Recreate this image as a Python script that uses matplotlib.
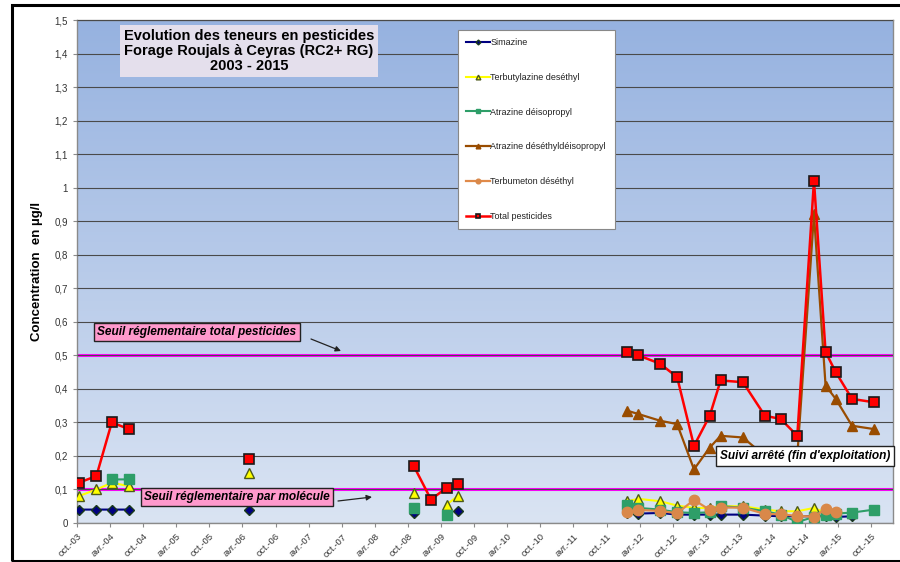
import numpy as np
import pandas as pd
import matplotlib
matplotlib.use("Agg")
import matplotlib.pyplot as plt
import matplotlib.dates as mdates
from matplotlib.colors import LinearSegmentedColormap
from matplotlib.patches import Rectangle
from matplotlib.ticker import FuncFormatter, MultipleLocator

plt.rcParams['font.family'] = ['Liberation Sans', 'DejaVu Sans']

nan = np.nan

# sampling dates (empty rows = analyses without detection, they break the lines)
dates = [
    "2003-10-10", "2004-01-16", "2004-04-10", "2004-07-13", "2005-06-01",
    "2006-05-07", "2007-08-01",
    "2008-11-01", "2009-02-04", "2009-05-01", "2009-07-01", "2010-10-01",
    "2012-01-22", "2012-03-24", "2012-07-22", "2012-10-24", "2013-01-25",
    "2013-04-22", "2013-06-21", "2013-10-22", "2014-02-20", "2014-05-19",
    "2014-08-18", "2014-11-18", "2015-01-21", "2015-03-18", "2015-06-16",
    "2015-10-16",
]

simazine = [0.04, 0.04, 0.04, 0.04, nan,
            0.04, nan,
            0.03, nan, nan, 0.035, nan,
            0.03, 0.028, 0.03, 0.025, 0.025,
            0.025, 0.025, 0.025, 0.022, 0.02,
            0.02, 0.02, 0.02, 0.018, 0.02,
            nan]

terbutylazine = [0.08, 0.10, 0.12, 0.11, nan,
                 0.15, nan,
                 0.09, nan, 0.055, 0.08, nan,
                 0.065, 0.072, 0.065, 0.052, 0.045,
                 0.045, 0.05, 0.05, 0.04, 0.035,
                 0.035, 0.045, 0.03, 0.03, 0.03,
                 nan]

atrazine_dip = [nan, nan, 0.13, 0.13, nan,
                nan, nan,
                0.045, nan, 0.025, nan, nan,
                0.055, 0.045, 0.04, 0.032, 0.03,
                0.032, 0.05, 0.046, 0.035, 0.025,
                0.003, 0.018, 0.025, 0.028, 0.031,
                0.04]

atrazine_dedip = [nan, nan, nan, nan, nan,
                  nan, nan,
                  nan, nan, nan, nan, nan,
                  0.335, 0.325, 0.305, 0.295, 0.16,
                  0.225, 0.26, 0.255, 0.20, 0.20,
                  0.20, 0.92, 0.41, 0.37, 0.29,
                  0.28]

terbumeton = [nan, nan, nan, nan, nan,
              nan, nan,
              nan, nan, nan, nan, nan,
              0.032, 0.039, 0.036, 0.029, 0.069,
              0.039, 0.046, 0.046, 0.027, 0.026,
              0.021, 0.019, 0.041, 0.032, nan,
              nan]

total = [0.12, 0.14, 0.30, 0.28, nan,
         0.19, nan,
         0.17, 0.07, 0.105, 0.115, nan,
         0.51, 0.50, 0.475, 0.435, 0.23,
         0.32, 0.425, 0.42, 0.32, 0.31,
         0.26, 1.02, 0.51, 0.45, 0.37,
         0.36]

seuil_total = 0.5
seuil_molecule = 0.1

x = pd.to_datetime(dates)

fig = plt.figure(figsize=(9, 5.62), dpi=100)
ax = fig.add_axes([77 / 900, 39 / 562, 816 / 900, 503 / 562])

# gradient plot area
cmap = LinearSegmentedColormap.from_list("bg", ["#DAE4F3", "#96B2E0"])
grad = np.linspace(0, 1, 256).reshape(-1, 1)
ax.imshow(grad, cmap=cmap, origin="lower", aspect="auto",
          extent=[0, 1, 0, 1], transform=ax.transAxes, zorder=0)

ax.set_ylim(0, 1.5)
ax.set_xlim(pd.Timestamp("2003-10-01"), pd.Timestamp("2016-01-28"))
ax.yaxis.set_major_locator(MultipleLocator(0.1))
ax.grid(axis='y', color='#4a4a4a', linewidth=0.8, zorder=1)
ax.set_axisbelow(False)

ax.axhline(seuil_total, color='#FF00FF', linewidth=2.2, zorder=2)
ax.axhline(seuil_molecule, color='#FF00FF', linewidth=2.2, zorder=2)

series = [
    ("Simazine", simazine, dict(color='#000080', marker='D', ms=5.5, mfc='#000080', mec='#1a3a1a', lw=1.5)),
    ("Terbutylazine deséthyl", terbutylazine, dict(color='#FFFF00', marker='^', ms=7.5, mfc='#FFFF00', mec='#4d5a1a', lw=1.5)),
    ("Atrazine déisopropyl", atrazine_dip, dict(color='#2E9E68', marker='s', ms=7, mfc='#2E9E68', mec='#2E9E68', lw=1.5)),
    ("Atrazine déséthyldéisopropyl", atrazine_dedip, dict(color='#994C00', marker='^', ms=7.5, mfc='#994C00', mec='#994C00', lw=1.6)),
    ("Terbumeton déséthyl", terbumeton, dict(color='#E08A4A', marker='o', ms=7.5, mfc='#D9884A', mec='#D9884A', lw=1.6)),
    ("Total pesticides", total, dict(color='#FF0000', marker='s', ms=7.5, mfc='#FF0000', mec='#1a1a1a', mew=1.2, lw=1.8)),
]
for i, (name, vals, st) in enumerate(series):
    ax.plot(x, vals, label=name, zorder=3 + i, **st)

# axes styling
for s in ax.spines.values():
    s.set_color('#8a8a8a')
    s.set_linewidth(1.0)
ax.yaxis.set_major_formatter(FuncFormatter(lambda v, p: f"{v:.1f}".replace('.', ',') if round(v, 1) not in (0.0, 1.0) else str(int(round(v)))))
ax.tick_params(axis='y', labelsize=7, colors='#8a8a8a', labelcolor='#333333', length=3)

ax.xaxis.set_major_locator(mdates.MonthLocator(bymonth=[4, 10]))
ax.xaxis.set_major_formatter(FuncFormatter(
    lambda v, p: ("avr." if mdates.num2date(v).month == 4 else "oct.") + "-" + mdates.num2date(v).strftime("%y")))
ax.tick_params(axis='x', labelsize=6.8, colors='#8a8a8a', labelcolor='#333333', length=3)
for lab in ax.get_xticklabels():
    lab.set_rotation(45)
    lab.set_ha('right')
    lab.set_rotation_mode('anchor')

ax.set_ylabel("Concentration  en µg/l", fontsize=9.5, fontweight='bold', labelpad=8)

# legend
leg = ax.legend(loc='upper left', bbox_to_anchor=(453 / 900, 1 - 25 / 562),
                bbox_transform=fig.transFigure, fontsize=6.5, labelspacing=2.85,
                handlelength=2.6, handletextpad=0.1, markerscale=0.45,
                fancybox=False, framealpha=1, edgecolor='#888888', borderpad=0.95)
leg.get_frame().set_linewidth(0.8)
leg.set_zorder(20)
for t in leg.get_texts():
    t.set_color('#222222')

# title box
fig.text(249 / 900, 1 - 51 / 562,
         "Evolution des teneurs en pesticides\nForage Roujals à Ceyras (RC2+ RG)\n2003 - 2015",
         ha='center', va='center', fontsize=10.5, fontweight='bold', linespacing=1.12,
         bbox=dict(boxstyle='square,pad=0.25', fc='#E4DFEC', ec='none'), zorder=20)

# threshold annotations
pink = dict(boxstyle='square,pad=0.28', fc='#FF99CC', ec='#222222', lw=1.0)
arrow = dict(arrowstyle='-|>', color='#222222', lw=0.9, shrinkA=0, shrinkB=0, mutation_scale=8)

fig.text(197 / 900, 1 - 332 / 562, "Seuil réglementaire total pesticides",
         ha='center', va='center', fontsize=8.6, fontweight='bold', style='italic',
         bbox=pink, zorder=21)
ax.annotate("", xy=(341 / 900, 1 - 351 / 562), xycoords='figure fraction',
            xytext=(311 / 900, 1 - 339 / 562), textcoords='figure fraction',
            arrowprops=arrow, zorder=21)

fig.text(237 / 900, 1 - 497 / 562, "Seuil réglementaire par molécule",
         ha='center', va='center', fontsize=8.6, fontweight='bold', style='italic',
         bbox=pink, zorder=21)
ax.annotate("", xy=(372 / 900, 1 - 497 / 562), xycoords='figure fraction',
            xytext=(338 / 900, 1 - 501 / 562), textcoords='figure fraction',
            arrowprops=arrow, zorder=21)

fig.text(805 / 900, 1 - 456 / 562, "Suivi arrêté (fin d'exploitation)",
         ha='center', va='center', fontsize=8.6, fontweight='bold', style='italic',
         bbox=dict(boxstyle='square,pad=0.35', fc='white', ec='#222222', lw=1.0), zorder=21)

# outer chart border
fig.patches.append(Rectangle((12 / 900, 1 / 562), 1.0, 556 / 562, transform=fig.transFigure,
                             fill=False, ec='black', lw=2.2, clip_on=False))

fig.savefig("out.png", dpi=100)
